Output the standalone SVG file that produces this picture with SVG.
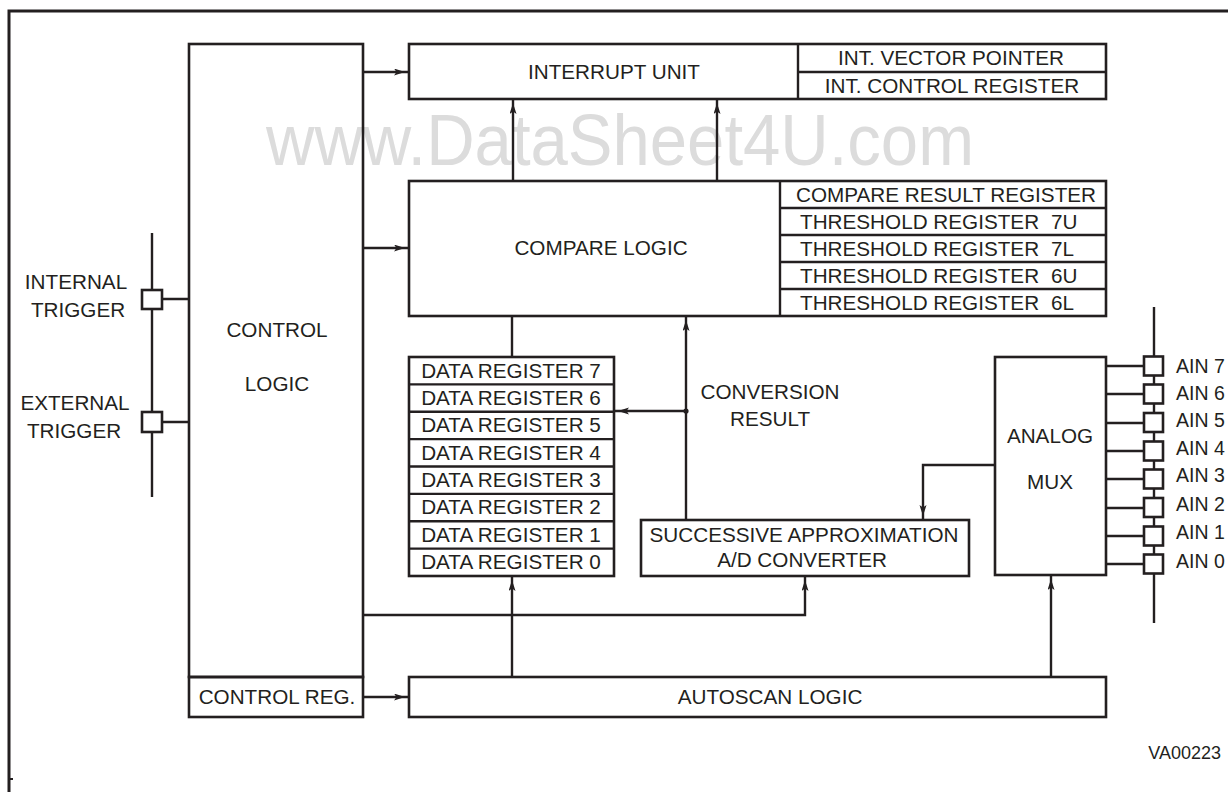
<svg xmlns="http://www.w3.org/2000/svg" width="1228" height="792" viewBox="0 0 1228 792">
<defs>
<style>
.box{fill:none;stroke:#231f20;stroke-width:2.6}
.ln{fill:none;stroke:#231f20;stroke-width:2.4}
.arr{fill:none;stroke:#231f20;stroke-width:2.4;marker-end:url(#ah)}
text{font-family:"Liberation Sans",Arial,Helvetica,sans-serif;font-size:20.7px;fill:#231f20}
.m{text-anchor:middle}
.ain{font-size:19.5px}
.wm{font-size:72px;fill:#dcdcdc;text-anchor:start}
</style>
<marker id="ah" markerUnits="userSpaceOnUse" markerWidth="17" markerHeight="8" refX="15" refY="3.5" orient="auto">
<path d="M0,0 L11,3.5 L0,7 L2.5,3.5 Z" fill="#231f20"/>
</marker>
</defs>
<rect width="1228" height="792" fill="#fff"/>
<text class="wm" x="266" y="165" textLength="708" lengthAdjust="spacingAndGlyphs">www.DataSheet4U.com</text>
<path d="M9,792 V11 H1228" fill="none" stroke="#231f20" stroke-width="3"/>
<g id="connectors">
<path class="arr" d="M363,72 H409"/>
<path class="arr" d="M363,248 H409"/>
<path class="arr" d="M513,181 V99"/>
<path class="arr" d="M717,181 V99"/>
<path class="ln" d="M512,316 V357"/>
<path class="arr" d="M686,520 V316"/>
<path class="arr" d="M686,411 H614"/>
<circle cx="686" cy="411" r="2.6" fill="#231f20"/>
<path class="arr" d="M995,465 H923 V520"/>
<path class="arr" d="M363,615 H805 V576"/>
<path class="arr" d="M512,677 V576"/>
<path class="arr" d="M1051,677 V575"/>
<path class="arr" d="M363,697 H409"/>
<path class="ln" d="M162,299 H189 M162,422 H189"/>
<path class="ln" d="M1106,366 H1144 M1106,394 H1144 M1106,423 H1144 M1106,451 H1144 M1106,479 H1144 M1106,508 H1144 M1106,536 H1144 M1106,564 H1144"/>
</g>
<g id="control-logic">
<rect class="box" x="189" y="44" width="174" height="633"/>
<text class="m" x="277" y="337">CONTROL</text>
<text class="m" x="277" y="391">LOGIC</text>
</g>
<g id="control-reg">
<rect class="box" x="189" y="677" width="174" height="40"/>
<text class="m" x="277" y="704">CONTROL REG.</text>
</g>
<g id="interrupt-unit">
<rect class="box" x="409" y="44" width="697" height="55"/>
<path class="ln" d="M798,44 V99 M798,72 H1106"/>
<text class="m" x="614" y="79">INTERRUPT UNIT</text>
<text class="m" x="951" y="65">INT. VECTOR POINTER</text>
<text class="m" x="952" y="93">INT. CONTROL REGISTER</text>
</g>
<g id="compare-logic">
<rect class="box" x="409" y="181" width="697" height="135"/>
<path class="ln" d="M780,181 V316 M780,208 H1106 M780,235 H1106 M780,262 H1106 M780,289 H1106"/>
<text class="m" x="601" y="255">COMPARE LOGIC</text>
<text class="m" x="946" y="202">COMPARE RESULT REGISTER</text>
<text x="800" y="229">THRESHOLD REGISTER<tspan x="1051">7U</tspan></text>
<text x="800" y="256">THRESHOLD REGISTER<tspan x="1051">7L</tspan></text>
<text x="800" y="283">THRESHOLD REGISTER<tspan x="1051">6U</tspan></text>
<text x="800" y="310">THRESHOLD REGISTER<tspan x="1051">6L</tspan></text>
</g>
<g id="data-registers">
<rect class="box" x="409" y="357" width="205" height="219"/>
<path class="ln" d="M409,384.4 H614 M409,411.8 H614 M409,439.1 H614 M409,466.5 H614 M409,493.9 H614 M409,521.2 H614 M409,548.6 H614"/>
<text class="m" x="511" y="377.5">DATA REGISTER 7</text>
<text class="m" x="511" y="404.9">DATA REGISTER 6</text>
<text class="m" x="511" y="432.3">DATA REGISTER 5</text>
<text class="m" x="511" y="459.6">DATA REGISTER 4</text>
<text class="m" x="511" y="487">DATA REGISTER 3</text>
<text class="m" x="511" y="514.4">DATA REGISTER 2</text>
<text class="m" x="511" y="541.7">DATA REGISTER 1</text>
<text class="m" x="511" y="569.1">DATA REGISTER 0</text>
</g>
<g id="conversion-result-label">
<text class="m" x="770" y="399">CONVERSION</text>
<text class="m" x="770" y="426">RESULT</text>
</g>
<g id="sar-adc">
<rect class="box" x="641" y="520" width="328" height="56"/>
<text class="m" x="804" y="542">SUCCESSIVE APPROXIMATION</text>
<text class="m" x="802" y="567">A/D CONVERTER</text>
</g>
<g id="analog-mux">
<rect class="box" x="995" y="357" width="111" height="218"/>
<text class="m" x="1050" y="443">ANALOG</text>
<text class="m" x="1050" y="489">MUX</text>
</g>
<g id="autoscan-logic">
<rect class="box" x="409" y="677" width="697" height="40"/>
<text class="m" x="770" y="704">AUTOSCAN LOGIC</text>
</g>
<g id="trigger-inputs">
<path class="ln" d="M152,233 V497"/>
<rect x="142" y="290" width="20" height="19" fill="#fff" stroke="#231f20" stroke-width="2.6"/>
<rect x="142" y="412" width="20" height="20" fill="#fff" stroke="#231f20" stroke-width="2.6"/>
<text class="m" x="76" y="289">INTERNAL</text>
<text class="m" x="78" y="317">TRIGGER</text>
<text class="m" x="75" y="410">EXTERNAL</text>
<text class="m" x="74" y="438">TRIGGER</text>
</g>
<g id="analog-inputs">
<path class="ln" d="M1154,307 V623"/>
<g fill="#fff" stroke="#231f20" stroke-width="2.6">
<rect x="1144" y="356.5" width="19" height="19"/>
<rect x="1144" y="384.5" width="19" height="19"/>
<rect x="1144" y="413" width="19" height="19"/>
<rect x="1144" y="441.5" width="19" height="19"/>
<rect x="1144" y="469.5" width="19" height="19"/>
<rect x="1144" y="498" width="19" height="19"/>
<rect x="1144" y="526.5" width="19" height="19"/>
<rect x="1144" y="554.5" width="19" height="19"/>
</g>
<text class="ain" x="1176" y="373">AIN 7</text>
<text class="ain" x="1176" y="400">AIN 6</text>
<text class="ain" x="1176" y="427">AIN 5</text>
<text class="ain" x="1176" y="455">AIN 4</text>
<text class="ain" x="1176" y="482">AIN 3</text>
<text class="ain" x="1176" y="511">AIN 2</text>
<text class="ain" x="1176" y="539">AIN 1</text>
<text class="ain" x="1176" y="568">AIN 0</text>
</g>
<text x="1221" y="759" style="text-anchor:end;font-size:18px">VA00223</text>
<path d="M10,779 H13" stroke="#231f20" stroke-width="2"/>
</svg>
